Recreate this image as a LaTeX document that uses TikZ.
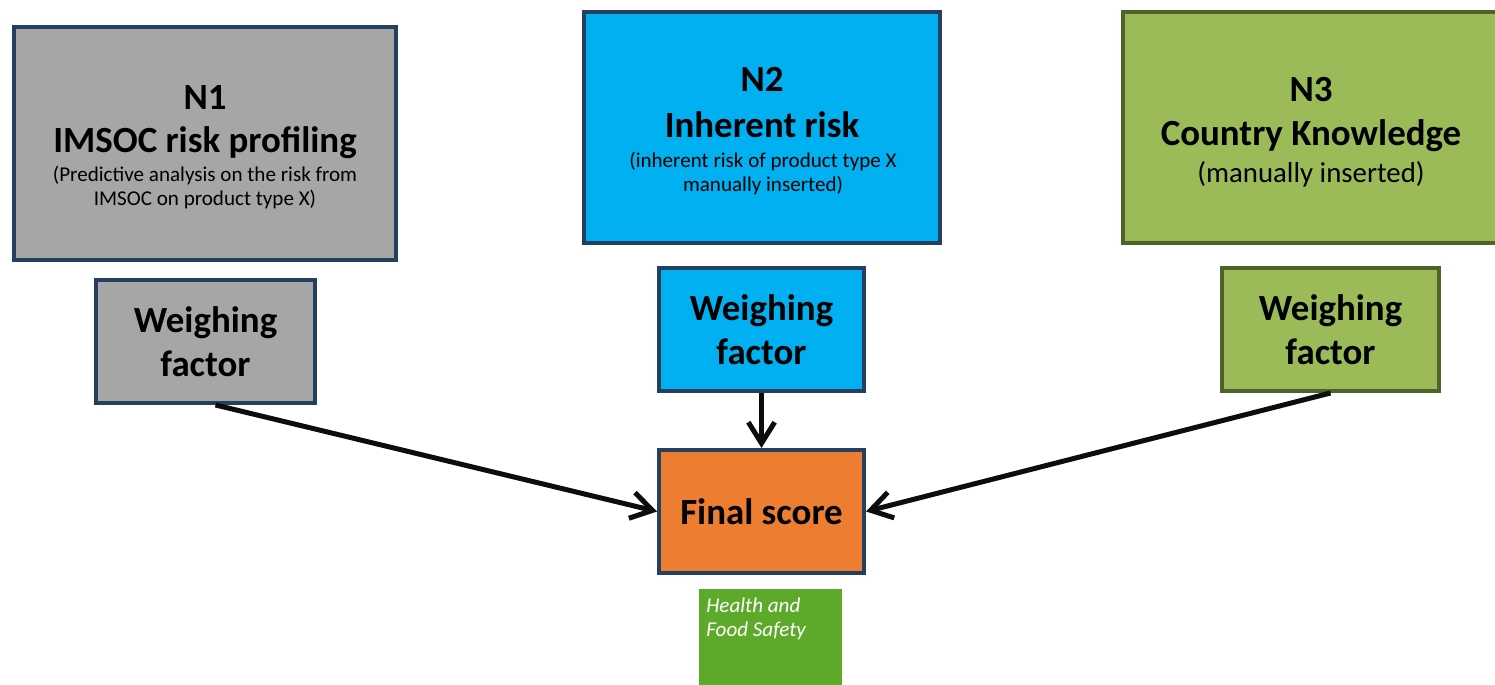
\documentclass[tikz,border=0pt]{standalone}
\usepackage{fontspec}
\setmainfont{Carlito}
\usetikzlibrary{arrows.meta}
\definecolor{boxgray}{HTML}{A6A6A6}
\definecolor{boxblue}{HTML}{00B0F0}
\definecolor{boxgreen}{HTML}{9BBB59}
\definecolor{boxorange}{HTML}{ED7D31}
\definecolor{edgeblue}{HTML}{243F60}
\definecolor{edgegreen}{HTML}{4F6228}
\definecolor{logogreen}{HTML}{5DAA2B}
\begin{document}
\begin{tikzpicture}[x=0.02cm,y=-0.02cm,
  box/.style={draw=edgeblue,line width=0.08cm,inner sep=0pt,align=center},
  big/.style={font=\bfseries\fontsize{21}{25}\selectfont},
  small/.style={font=\fontsize{12}{14}\selectfont},
  logo/.style={font=\itshape\fontsize{12}{14}\selectfont,text=white,inner sep=0pt},
  link/.style={line width=0.1cm,draw=black!95,-{Straight Barb[length=12pt,width=15pt]}}]
\useasboundingbox (0,0) rectangle (1495,685);
\clip (0,0) rectangle (1495,685);

\node[box,fill=boxgray,minimum width=7.64cm,minimum height=4.66cm] (n1) at (205,143.5) {};
\node[box,fill=boxblue,minimum width=7.12cm,minimum height=4.62cm] (n2) at (762,127.5) {};
\node[box,draw=edgegreen,fill=boxgreen,minimum width=7.52cm,minimum height=4.62cm] (n3) at (1311,127.5) {};

\node[big,anchor=base] (n1a) at (205,110) {N1};
\node[big,anchor=base] (n1b) at (205,153) {IMSOC risk profiling};
\node[small,anchor=base] (n1c) at (205,182) {(Predictive analysis on the risk from};
\node[small,anchor=base] (n1d) at (205,206) {IMSOC on product type X)};

\node[big,anchor=base] (n2a) at (762,92) {N2};
\node[big,anchor=base] (n2b) at (762,138) {Inherent risk};
\node[small,anchor=base] (n2c) at (763,168) {(inherent risk of product type X};
\node[small,anchor=base] (n2d) at (763,192) {manually inserted)};

\node[big,anchor=base] (n3a) at (1311,102) {N3};
\node[big,anchor=base] (n3b) at (1311,146) {Country Knowledge};
\node[font=\fontsize{16.4}{19}\selectfont,anchor=base] (n3c) at (1311,183) {(manually inserted)};

\node[box,big,fill=boxgray,minimum width=4.38cm,minimum height=2.46cm] (w1) at (205.5,341.5) {Weighing\\factor};
\node[box,big,fill=boxblue,minimum width=4.1cm,minimum height=2.46cm] (w2) at (761.5,329.5) {Weighing\\factor};
\node[box,big,draw=edgegreen,fill=boxgreen,minimum width=4.34cm,minimum height=2.46cm] (w3) at (1330.5,329.5) {Weighing\\factor};

\node[box,big,fill=boxorange,minimum width=4.1cm,minimum height=2.46cm] (fin) at (761.5,511.5) {Final score};

\draw[link] ([xshift=0.2cm]w1.south) -- (fin.west);
\draw[link] (w2.south) -- (fin.north);
\draw[link] (w3.south) -- (fin.east);

\node[fill=logogreen,minimum width=2.86cm,minimum height=1.92cm,inner sep=0pt] (hfs) at (770.5,637) {};
\node[logo,anchor=base west] (hfs1) at (706,613) {Health and};
\node[logo,anchor=base west] (hfs2) at (706,637) {Food Safety};
\end{tikzpicture}
\end{document}
